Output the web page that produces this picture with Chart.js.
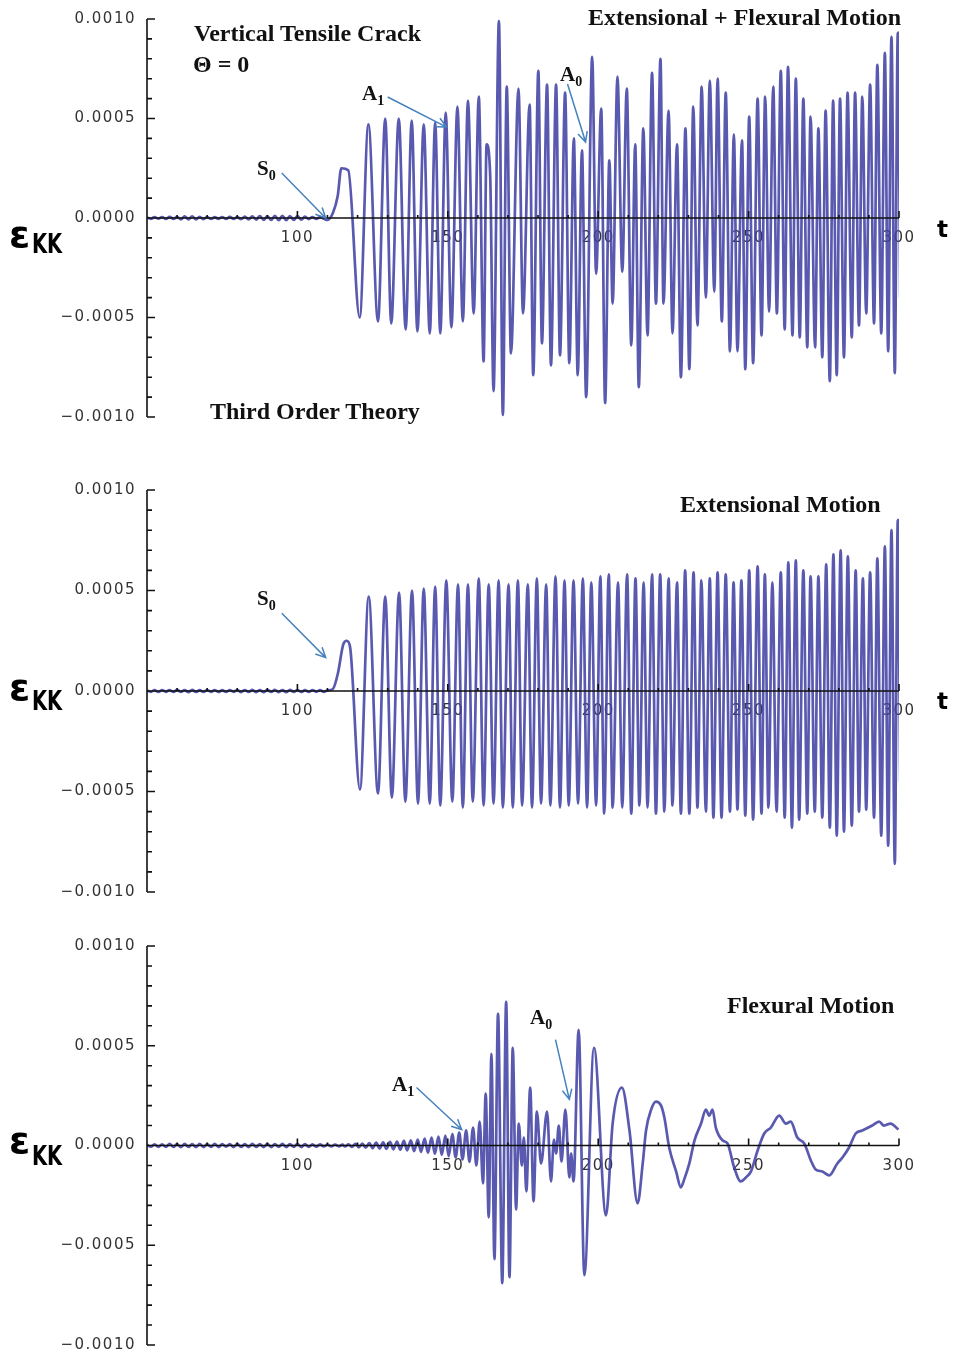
<!DOCTYPE html>
<html>
<head>
<meta charset="utf-8">
<script src="https://cdn.jsdelivr.net/npm/chart.js@4.4.1/dist/chart.umd.min.js"></script>
<style>
  body { margin: 0; background: #fff; width: 954px; height: 1354px; position: relative; overflow: hidden; }
  canvas { position: absolute; left: 0; }
  .note { position: absolute; font-family: "Liberation Serif", serif; font-weight: bold; font-size: 24px; line-height: 24px; color: #111; white-space: nowrap; }
  .mark { font-size: 21px; line-height: 21px; }
  .mark sub { font-size: 14px; vertical-align: -5px; line-height: 0; }
  .eps { position: absolute; left: 9px; font-family: "DejaVu Sans", sans-serif; font-weight: bold; font-size: 38px; line-height: 38px; color: #000; }
  .kk { position: absolute; left: 32px; font-family: "DejaVu Sans", sans-serif; font-weight: bold; font-size: 26px; line-height: 26px; color: #000; transform: scaleX(0.75); transform-origin: left top; }
  .tvar { position: absolute; left: 937px; font-family: "DejaVu Sans", sans-serif; font-weight: bold; font-size: 23px; line-height: 23px; color: #000; }
</style>
</head>
<body>
<canvas id="combined" width="954" height="450" style="top:0px"></canvas>
<canvas id="extensional" width="954" height="450" style="top:470px"></canvas>
<canvas id="flexural" width="954" height="450" style="top:926px"></canvas>

<div class="note" style="left:194px;top:21px">Vertical Tensile Crack</div>
<div class="note" style="left:193px;top:52px">Θ = 0</div>
<div class="note" style="left:210px;top:399px">Third Order Theory</div>
<div class="note" style="left:588px;top:5px">Extensional + Flexural Motion</div>
<div class="note mark" style="left:362px;top:83px">A<sub>1</sub></div>
<div class="note mark" style="left:257px;top:158px">S<sub>0</sub></div>
<div class="note mark" style="left:560px;top:64px">A<sub>0</sub></div>
<div class="eps" style="top:215px">ε</div>
<div class="kk" style="top:231px">KK</div>
<div class="tvar" style="top:218px">t</div>

<div class="note" style="left:680px;top:492px">Extensional Motion</div>
<div class="note mark" style="left:257px;top:588px">S<sub>0</sub></div>
<div class="eps" style="top:668px">ε</div>
<div class="kk" style="top:688px">KK</div>
<div class="tvar" style="top:690px">t</div>

<div class="note" style="left:727px;top:993px">Flexural Motion</div>
<div class="note mark" style="left:392px;top:1074px">A<sub>1</sub></div>
<div class="note mark" style="left:530px;top:1007px">A<sub>0</sub></div>
<div class="eps" style="top:1121px">ε</div>
<div class="kk" style="top:1143px">KK</div>

<script>
// strain records, each entry is [t, eps_kk]
const combinedPts = [
  [50.0, 0.000002], [51.3, -0.000004], [52.5, 0.000004], [53.8, -0.000003], [55.0, 0.000005], [56.3, -0.000005],
  [57.5, 0.000006], [58.8, -0.000005], [60.0, 0.000006], [61.3, -0.000007], [62.5, 0.000008], [63.8, -0.000007],
  [65.0, 0.000008], [66.3, -0.000007], [67.5, 0.000006], [68.8, -0.000006], [70.0, 0.000005], [71.3, -0.000005],
  [72.5, 0.000004], [73.8, -0.000004], [75.0, 0.000005], [76.3, -0.000005], [77.5, 0.000006], [78.8, -0.000005],
  [80.0, 0.000005], [81.3, -0.000006], [82.5, 0.000007], [83.8, -0.000007], [85.0, 0.000008], [86.3, -0.000008],
  [87.5, 0.000009], [88.8, -0.000009], [90.0, 0.00001], [91.3, -0.00001], [92.5, 0.000011], [93.8, -0.000011],
  [95.0, 0.000011], [96.3, -0.000011], [97.5, 0.00001], [98.8, -0.00001], [100.0, 0.000009], [101.3, -0.000008],
  [102.5, 0.000007], [103.8, -0.000006], [105.0, 0.000005], [106.3, -0.000005], [107.5, 0.000004], [108.8, -0.000004],
  [110.0, -0.00001], [111.8, 0.000025], [113.4, 0.00011], [114.6, 0.00025], [116.9, 0.00024],
  [120.7, -0.00050], [123.6, 0.00047], [126.8, -0.00052], [129.2, 0.00050], [131.2, -0.00053], [133.7, 0.00050],
  [136.0, -0.00056], [138.0, 0.00049], [139.9, -0.00057], [142.0, 0.00047], [144.0, -0.00058], [145.8, 0.00048],
  [147.5, -0.00058], [149.3, 0.00053], [151.2, -0.00055], [153.2, 0.00056], [155.0, -0.00052], [156.7, 0.00059],
  [158.6, -0.00048], [160.3, 0.00061], [161.9, -0.00072], [162.9, 0.00037], [164.1, 0.00021], [165.2, -0.00087],
  [167.0, 0.00099], [168.3, -0.00099], [169.6, 0.00066], [171.0, -0.00068], [173.5, 0.00065], [175.0, -0.00048],
  [177.2, 0.00057], [178.4, -0.00079], [180.1, 0.00074], [181.3, -0.00063], [183.0, 0.00067], [184.3, -0.00074],
  [186.0, 0.00067], [187.3, -0.00069], [189.0, 0.00063], [190.4, -0.00073], [191.9, 0.00040], [193.2, -0.00079],
  [194.6, 0.00034], [196.0, -0.00090], [198.0, 0.00081], [199.3, -0.00028], [201.0, 0.00055], [202.3, -0.00093],
  [203.7, 0.00029], [204.8, -0.00043], [206.4, 0.00071], [208.0, -0.00027], [209.5, 0.00065], [211.0, -0.00064],
  [212.3, 0.00037], [213.5, -0.00085], [215.0, 0.00045], [216.4, -0.00059], [217.9, 0.00073], [219.2, -0.00043],
  [220.7, 0.00080], [221.7, -0.00043], [223.4, 0.00054], [224.7, -0.00058], [226.2, 0.00037], [227.5, -0.00080],
  [229.0, 0.00045], [230.3, -0.00076], [231.6, 0.00056], [233.0, -0.00054], [234.4, 0.00066], [235.8, -0.00040],
  [237.1, 0.00069], [238.6, -0.00037], [239.7, 0.00070], [241.1, -0.00052], [242.4, 0.00063], [243.8, -0.00067],
  [245.1, 0.00042], [246.3, -0.00067], [247.8, 0.00039], [248.9, -0.00076], [250.2, 0.00051], [251.5, -0.00073],
  [253.0, 0.00060], [254.3, -0.00059], [255.5, 0.00061], [256.8, -0.00047], [258.2, 0.00066], [259.4, -0.00048],
  [260.7, 0.00074], [262.0, -0.00056], [263.1, 0.00076], [264.6, -0.00059], [265.7, 0.00070], [267.0, -0.00060],
  [268.2, 0.00060], [269.5, -0.00065], [270.6, 0.00051], [272.1, -0.00065], [273.2, 0.00045], [274.5, -0.00070],
  [275.6, 0.00054], [277.0, -0.00082], [278.1, 0.00059], [279.3, -0.00079], [280.4, 0.00060], [281.7, -0.00070],
  [282.9, 0.00063], [284.3, -0.00060], [285.4, 0.00063], [286.7, -0.00054], [287.8, 0.00061], [289.1, -0.00048],
  [290.4, 0.00067], [291.7, -0.00053], [292.8, 0.00077], [294.1, -0.00058], [295.3, 0.00083], [296.4, -0.00067],
  [297.5, 0.00091], [298.6, -0.00078], [299.6, 0.00093], [300.4, -0.00040]
];

const extensionalPts = [
  [50.0, 0.000002], [51.3, -0.000004], [52.5, 0.000004], [53.8, -0.000005], [55.0, 0.000005], [56.3, -0.000004],
  [57.5, 0.000005], [58.8, -0.000005], [60.0, 0.000006], [61.3, -0.000005], [62.5, 0.000005], [63.8, -0.000006],
  [65.0, 0.000006], [66.3, -0.000005], [67.5, 0.000004], [68.8, -0.000005], [70.0, 0.000005], [71.3, -0.000004],
  [72.5, 0.000005], [73.8, -0.000005], [75.0, 0.000004], [76.3, -0.000005], [77.5, 0.000005], [78.8, -0.000004],
  [80.0, 0.000005], [81.3, -0.000006], [82.5, 0.000005], [83.8, -0.000005], [85.0, 0.000006], [86.3, -0.000006],
  [87.5, 0.000005], [88.8, -0.000006], [90.0, 0.000006], [91.3, -0.000005], [92.5, 0.000006], [93.8, -0.000006],
  [95.0, 0.000005], [96.3, -0.000006], [97.5, 0.000006], [98.8, -0.000005], [100.0, 0.000005], [101.3, -0.000005],
  [102.5, 0.000004], [103.8, -0.000005], [105.0, 0.000005], [106.3, -0.000004], [107.5, 0.000004], [108.8, -0.000004],
  [110.0, 0.000003], [111.8, 0.00001], [113.5, 0.00009], [115.2, 0.00023], [116.4, 0.00025], [117.5, 0.00022],
  [120.8, -0.00049], [123.7, 0.00047], [126.8, -0.00051], [129.2, 0.00047], [131.4, -0.00053], [133.8, 0.00049],
  [135.9, -0.00055], [138.1, 0.00050], [140.1, -0.00056], [142.0, 0.00051], [144.0, -0.00056], [145.8, 0.00052],
  [147.5, -0.00057], [149.5, 0.00055], [151.5, -0.00055], [153.4, 0.00053], [155.0, -0.00058], [156.7, 0.00053],
  [158.3, -0.00055], [160.3, 0.00056], [161.9, -0.00057], [163.6, 0.00053], [165.2, -0.00056], [166.9, 0.00055],
  [168.3, -0.00058], [170.2, 0.00053], [171.6, -0.00058], [173.3, 0.00055], [174.7, -0.00057], [176.6, 0.00053],
  [178.0, -0.00058], [179.6, 0.00056], [181.0, -0.00056], [182.7, 0.00053], [184.1, -0.00057], [185.8, 0.00057],
  [187.3, -0.00058], [188.8, 0.00055], [190.2, -0.00057], [191.8, 0.00055], [193.3, -0.00056], [194.9, 0.00056],
  [196.3, -0.00058], [197.7, 0.00054], [199.3, -0.00057], [200.7, 0.00057], [202.0, -0.00061], [203.5, 0.00058],
  [204.8, -0.00058], [206.6, 0.00054], [208.0, -0.00058], [209.6, 0.00058], [211.0, -0.00061], [212.4, 0.00056],
  [213.7, -0.00057], [215.1, 0.00054], [216.4, -0.00058], [217.9, 0.00058], [219.2, -0.00061], [220.6, 0.00058],
  [222.0, -0.00060], [223.4, 0.00056], [224.7, -0.00057], [226.2, 0.00054], [227.5, -0.00061], [228.9, 0.00060],
  [230.3, -0.00061], [231.7, 0.00059], [233.0, -0.00058], [234.3, 0.00055], [235.8, -0.00060], [237.1, 0.00056],
  [238.3, -0.00063], [239.7, 0.00059], [241.0, -0.00063], [242.4, 0.00058], [243.8, -0.00060], [245.0, 0.00054],
  [246.3, -0.00059], [247.6, 0.00055], [248.9, -0.00062], [250.2, 0.00060], [251.5, -0.00064], [253.0, 0.00062],
  [254.3, -0.00061], [255.4, 0.00058], [256.6, -0.00058], [257.9, 0.00054], [259.3, -0.00060], [260.7, 0.00059],
  [262.0, -0.00063], [263.2, 0.00064], [264.4, -0.00068], [265.7, 0.00065], [266.8, -0.00064], [268.2, 0.00060],
  [269.5, -0.00061], [270.6, 0.00057], [272.0, -0.00060], [273.2, 0.00057], [274.5, -0.00063], [275.8, 0.00063],
  [277.0, -0.00068], [278.2, 0.00068], [279.3, -0.00072], [280.6, 0.00070], [281.7, -0.00070], [283.0, 0.00067],
  [284.3, -0.00067], [285.6, 0.00060], [286.7, -0.00060], [288.0, 0.00056], [289.1, -0.00059], [290.4, 0.00059],
  [291.7, -0.00063], [292.8, 0.00066], [294.1, -0.00072], [295.3, 0.00072], [296.4, -0.00077], [297.5, 0.00080],
  [298.6, -0.00086], [299.6, 0.00085], [300.4, -0.00045]
];

const flexuralPts = [
  [50.0, 0.000004], [51.3, -0.000006], [52.5, 0.000006], [53.8, -0.000007], [55.0, 0.000006], [56.3, -0.000007],
  [57.5, 0.000008], [58.8, -0.000007], [60.0, 0.000007], [61.3, -0.000008], [62.5, 0.000008], [63.8, -0.000007],
  [65.0, 0.000007], [66.3, -0.000008], [67.5, 0.000008], [68.8, -0.000008], [70.0, 0.000007], [71.3, -0.000007],
  [72.5, 0.000008], [73.8, -0.000008], [75.0, 0.000007], [76.3, -0.000006], [77.5, 0.000007], [78.8, -0.000008],
  [80.0, 0.000008], [81.3, -0.000007], [82.5, 0.000007], [83.8, -0.000008], [85.0, 0.000008], [86.3, -0.000007],
  [87.5, 0.000007], [88.8, -0.000008], [90.0, 0.000008], [91.3, -0.000008], [92.5, 0.000007], [93.8, -0.000007],
  [95.0, 0.000008], [96.3, -0.000008], [97.5, 0.000007], [98.8, -0.000007], [100.0, 0.000008], [101.3, -0.000008],
  [102.5, 0.000007], [103.8, -0.000007], [105.0, 0.000006], [106.3, -0.000006], [107.5, 0.000006], [108.8, -0.000005],
  [110.0, 0.000005], [111.3, -0.000005], [112.5, 0.000005], [113.8, -0.000004], [115.0, 0.000004],
  [115.8, -0.000005], [117.0, 0.000006], [118.1, -0.000007], [119.3, 0.000008], [120.4, -0.000009], [121.6, 0.00001],
  [122.7, -0.000011], [123.9, 0.000012], [125.0, -0.000013], [126.2, 0.000014], [127.3, -0.000015], [128.5, 0.000016],
  [129.6, -0.000017], [130.8, 0.000018], [131.9, -0.000019], [133.1, 0.00002], [134.2, -0.000021], [135.4, 0.000023],
  [136.5, -0.000024], [137.7, 0.000026], [138.8, -0.000028], [140.0, 0.00003], [141.1, -0.000032], [142.3, 0.000034],
  [143.4, -0.000036], [144.6, 0.000039], [145.7, -0.000041], [146.9, 0.000044], [148.0, -0.000047], [149.2, 0.00005],
  [150.3, -0.000053], [151.5, 0.000057], [152.6, -0.00006], [153.8, 0.000065], [154.9, -0.00007], [156.1, 0.000076],
  [157.2, -0.000082], [158.4, 0.00009], [159.5, -0.0001],
  [160.6, 0.00012], [161.7, -0.00019], [162.6, 0.00026], [163.6, -0.00036], [164.5, 0.00046], [165.5, -0.00057],
  [166.7, 0.00066], [168.1, -0.00069], [169.4, 0.00072], [170.5, -0.00066], [171.6, 0.00049], [172.7, -0.00032],
  [173.6, 0.00011], [174.6, -0.00010], [175.3, 0.00004], [176.1, -0.00023], [177.4, 0.00029], [178.5, -0.00028],
  [179.6, 0.00017], [181.0, -0.00009], [183.0, 0.00017], [184.3, -0.00018], [185.3, 0.00003], [186.0, -0.00004],
  [186.9, 0.00010], [187.8, -0.00008], [189.1, 0.00018], [190.4, -0.00016], [191.0, -0.00004], [191.8, -0.00018],
  [193.5, 0.00058], [195.4, -0.00065], [198.6, 0.00049], [202.6, -0.00035], [204.8, 0.00011], [207.9, 0.00029],
  [210.4, 0.000075], [213.1, -0.00029], [214.8, -0.00009], [215.9, 0.000075], [217.6, 0.00018], [219.2, 0.00022],
  [220.9, 0.00020], [222.0, 0.00014], [223.6, -0.00001], [225.9, -0.00013], [227.5, -0.00021], [228.6, -0.00017],
  [230.3, -0.00009], [232.0, 0.000025], [234.2, 0.00011], [235.8, 0.00018], [236.9, 0.00015], [238.0, 0.00018],
  [239.1, 0.00009], [241.4, 0.000025], [243.0, 0.00001], [245.2, -0.00011], [247.4, -0.00018], [249.1, -0.00016],
  [250.8, -0.00013], [253.0, -0.000025], [255.2, 0.00006], [257.4, 0.00009], [260.2, 0.00015], [262.4, 0.00011],
  [264.0, 0.00012], [266.2, 0.00004], [268.5, 0.00001], [270.7, -0.000075], [272.3, -0.00012], [274.5, -0.00013],
  [276.8, -0.00015], [279.5, -0.00009], [281.2, -0.00006], [283.4, -0.00001], [285.6, 0.00006], [287.8, 0.000075],
  [291.1, 0.0001], [293.4, 0.00012], [295.0, 0.0001], [297.2, 0.00011], [299.8, 0.00008]
];

const timeTicks = [50, 60, 70, 80, 90, 100, 110, 120, 130, 140, 150, 160, 170, 180, 190, 200,
  210, 220, 230, 240, 250, 260, 270, 280, 290, 300];
const timeLabels = [100, 150, 200, 250, 300];
const strainTicks = [-0.001, -0.0009, -0.0008, -0.0007, -0.0006, -0.0005, -0.0004, -0.0003, -0.0002, -0.0001, 0,
  0.0001, 0.0002, 0.0003, 0.0004, 0.0005, 0.0006, 0.0007, 0.0008, 0.0009, 0.001];
const strainLabels = [-0.001, -0.0005, 0, 0.0005, 0.001];

// pointer arrows: [tFrom, epsFrom, tTo, epsTo]
const combinedArrows = [[130.0, 0.000608, 149.6, 0.000457], [94.8, 0.000226, 109.4, 0.0], [189.8, 0.000673, 195.8, 0.000382]];
const extensionalArrows = [[94.8, 0.000387, 109.4, 0.000166]];
const flexuralArrows = [[139.6, 0.000291, 154.6, 0.00008], [185.8, 0.000531, 190.4, 0.000231]];

const traceColor = 'rgba(66, 66, 165, 0.88)';
const arrowColor = '#4682be';
const tickFont = { family: 'DejaVu Sans', size: 15, lineHeight: 1 };

const fmtStrain = v => (v < 0 ? '\u2212' : '') + Math.abs(v).toFixed(4);

// Mathematica-style axes: frame line on the left, time axis through zero, ticks pointing inward
const axesPlugin = {
  id: 'mmaAxes',
  beforeDraw(chart) { chart.ctx.letterSpacing = '1.5px'; },
  afterDatasetsDraw(chart, args, opts) {
    const { ctx, chartArea: a, scales: { x, y } } = chart;
    const y0 = y.getPixelForValue(0);
    ctx.save();
    ctx.letterSpacing = '0px';
    ctx.strokeStyle = '#111';
    ctx.lineWidth = 1.6;
    ctx.beginPath();
    ctx.moveTo(a.left, a.top); ctx.lineTo(a.left, a.bottom);
    ctx.moveTo(a.left, y0); ctx.lineTo(a.right, y0);
    y.ticks.forEach(t => {
      const py = y.getPixelForValue(t.value);
      const len = strainLabels.includes(t.value) ? 8 : 5;
      ctx.moveTo(a.left, py); ctx.lineTo(a.left + len, py);
    });
    x.ticks.forEach(t => {
      if (t.value === 50) return;
      const px = x.getPixelForValue(t.value);
      const len = timeLabels.includes(t.value) ? 7 : 3;
      ctx.moveTo(px, y0); ctx.lineTo(px, y0 - len);
    });
    ctx.stroke();

    ctx.strokeStyle = arrowColor;
    ctx.lineWidth = 1.5;
    (opts.arrows || []).forEach(([t1, e1, t2, e2]) => {
      const x1 = x.getPixelForValue(t1), y1 = y.getPixelForValue(e1);
      const x2 = x.getPixelForValue(t2), y2 = y.getPixelForValue(e2);
      const ang = Math.atan2(y2 - y1, x2 - x1);
      ctx.beginPath();
      ctx.moveTo(x1, y1); ctx.lineTo(x2, y2);
      ctx.moveTo(x2 - 11 * Math.cos(ang - 0.45), y2 - 11 * Math.sin(ang - 0.45));
      ctx.lineTo(x2, y2);
      ctx.lineTo(x2 - 11 * Math.cos(ang + 0.45), y2 - 11 * Math.sin(ang + 0.45));
      ctx.stroke();
    });
    ctx.restore();
  },
  afterDraw(chart) { chart.ctx.letterSpacing = '0px'; }
};

function makeChart(id, pts, arrows, padTop, padBottom) {
  return new Chart(document.getElementById(id), {
    type: 'line',
    data: {
      datasets: [{
        data: pts.map(p => ({ x: p[0], y: p[1] })),
        borderColor: traceColor,
        borderWidth: 2.7,
        pointRadius: 0,
        cubicInterpolationMode: 'monotone',
        fill: false
      }]
    },
    options: {
      responsive: false,
      animation: false,
      events: [],
      layout: { padding: { top: padTop, bottom: padBottom, left: 0, right: 55 } },
      plugins: { legend: { display: false }, tooltip: { enabled: false }, mmaAxes: { arrows } },
      scales: {
        x: {
          type: 'linear',
          min: 50, max: 300,
          position: { y: 0 },
          afterBuildTicks: s => { s.ticks = timeTicks.map(v => ({ value: v })); },
          grid: { display: false, drawTicks: false },
          border: { display: false },
          ticks: {
            autoSkip: false, maxRotation: 0, padding: 13, color: '#333', font: tickFont,
            callback: v => timeLabels.includes(v) ? String(v) : ''
          }
        },
        y: {
          type: 'linear',
          min: -0.001, max: 0.001,
          afterFit: s => { s.width = 147; },
          afterBuildTicks: s => { s.ticks = strainTicks.map(v => ({ value: v })); },
          grid: { display: false, drawTicks: false },
          border: { display: false },
          ticks: {
            autoSkip: false, padding: 11, color: '#333', font: tickFont,
            callback: v => strainLabels.includes(v) ? fmtStrain(v) : ''
          }
        }
      }
    },
    plugins: [axesPlugin]
  });
}

makeChart('combined', combinedPts, combinedArrows, 19, 33);
makeChart('extensional', extensionalPts, extensionalArrows, 20, 28);
makeChart('flexural', flexuralPts, flexuralArrows, 20, 31);
</script>
</body>
</html>
